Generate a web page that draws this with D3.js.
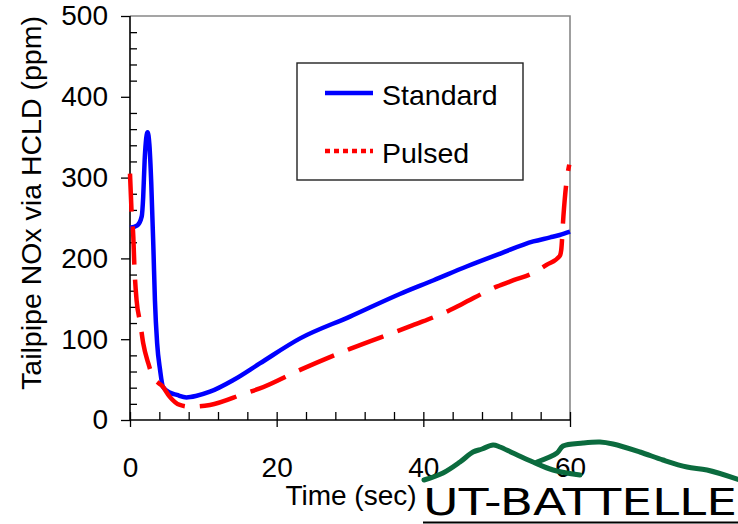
<!DOCTYPE html>
<html>
<head>
<meta charset="utf-8">
<script src="https://cdn.jsdelivr.net/npm/d3@7"></script>
<style>
  html, body { margin: 0; padding: 0; background: #fff; }
  svg { display: block; font-family: "Liberation Sans", Arial, sans-serif; }
</style>
</head>
<body>
<svg id="chart" width="738" height="524"></svg>
<script>
// ---- data ----
const standardTime = [0, 1.0, 1.6, 1.8, 2.0, 2.15, 2.4, 2.65, 2.9, 3.2, 3.4, 3.7, 4.1, 4.5, 5.4, 6.4, 7.7, 9.1, 10.9, 14.1, 17.7, 23.2, 30, 36.8, 41.4, 45.9, 50.5, 55.0, 57.3, 58.6, 60];
const standardNOx  = [238, 241, 252, 276, 322, 343, 356, 340, 293, 210, 148, 95, 62, 41, 34, 31, 28, 30, 35, 49.5, 70, 101, 128, 156, 173, 190, 206, 221, 226, 229, 233];

const pulsedTime = [0, 0.2, 0.45, 0.6, 0.9, 1.4, 1.8, 2.5, 3.1, 4.5, 5.4, 6.8, 8.2, 10.9, 15.7, 17.7, 23.2, 30, 38.5, 43.4, 45.3, 50, 52.3, 55, 56.8, 58.6, 58.8, 59.1, 59.5, 59.9];
const pulsedNOx  = [305, 260, 227, 190, 148, 120, 95, 70, 54, 41, 29, 18.6, 16.5, 18.6, 33, 39, 62, 88, 117, 135, 143.6, 165, 173, 182, 192, 203, 210, 252, 293, 316];

const seriesNames = ["Standard", "Pulsed"];
const xTicks = [0, 20, 40, 60];
const yTicks = [0, 100, 200, 300, 400, 500];
const xTitle = "Time (sec)";
const yTitle = "Tailpipe NOx via HCLD (ppm)";
const logoText = "UT-BATTELLE";

// ---- layout ----
const svg = d3.select("#chart");
const L = 130, R = 570, T = 16, B = 420;
const x = d3.scaleLinear().domain([0, 60]).range([L, R]);
const y = d3.scaleLinear().domain([0, 500]).range([B, T]);

// frame: top & right gray
svg.append("path")
  .attr("d", `M${L},${T}H${R}V${B}`)
  .attr("fill", "none").attr("stroke", "#888").attr("stroke-width", 1.6);

// minor ticks (inward)
const xMinor = d3.range(0, 61, 4).filter(v => v % 20 !== 0);
svg.append("g").attr("transform", `translate(0,${B})`)
  .call(d3.axisTop(x).tickValues(xMinor).tickSize(8).tickFormat(""))
  .call(g => g.select(".domain").remove())
  .selectAll("line").attr("stroke", "#000").attr("stroke-width", 1.3);
const yMinor = d3.range(0, 501, 20).filter(v => v % 100 !== 0);
svg.append("g").attr("transform", `translate(${L},0)`)
  .call(d3.axisRight(y).tickValues(yMinor).tickSize(7).tickFormat(""))
  .call(g => g.select(".domain").remove())
  .selectAll("line").attr("stroke", "#000").attr("stroke-width", 1.3);

// x axis major
const gx = svg.append("g").attr("transform", `translate(0,${B})`)
  .call(d3.axisBottom(x).tickValues(xTicks).tickSize(7).tickPadding(30).tickFormat(d3.format("d")));
gx.select(".domain").attr("d", `M${L},0H${R}`).attr("stroke", "#000").attr("stroke-width", 1.6);
gx.selectAll(".tick line").attr("y1", -8).attr("stroke", "#000").attr("stroke-width", 1.3);
gx.selectAll("text").attr("font-size", 28).attr("fill", "#000")
  .attr("font-family", "'Liberation Sans', Arial, sans-serif");

// y axis major
const gy = svg.append("g").attr("transform", `translate(${L},0)`)
  .call(d3.axisLeft(y).tickValues(yTicks).tickSize(9).tickPadding(13).tickFormat(d3.format("d")));
gy.select(".domain").attr("d", `M0,${T}V${B}`).attr("stroke", "#000").attr("stroke-width", 1.6);
gy.selectAll(".tick line").attr("stroke", "#000").attr("stroke-width", 1.3);
gy.selectAll("text").attr("font-size", 28).attr("fill", "#000")
  .attr("font-family", "'Liberation Sans', Arial, sans-serif");

// titles
svg.append("text").attr("x", 351).attr("y", 505).attr("text-anchor", "middle")
  .attr("font-size", 28).text(xTitle);
svg.append("text").attr("transform", "translate(41,203) rotate(-90)")
  .attr("text-anchor", "middle").attr("font-size", 28.5).text(yTitle);

// lines
const line = d3.line().x(d => x(d[0])).y(d => y(d[1])).curve(d3.curveMonotoneX);
const stdData = standardTime.map((t, i) => [t, standardNOx[i]]);
const pulData = pulsedTime.map((t, i) => [t, pulsedNOx[i]]);

svg.append("path").datum(stdData).attr("d", line)
  .attr("fill", "none").attr("stroke", "#0000ff").attr("stroke-width", 4.5)
  .attr("stroke-linejoin", "round");
svg.append("path").datum(pulData).attr("d", line)
  .attr("fill", "none").attr("stroke", "#ff0000").attr("stroke-width", 4.5)
  .attr("stroke-dasharray", "38,15");

// legend
const lg = svg.append("g");
lg.append("rect").attr("x", 297).attr("y", 63).attr("width", 226).attr("height", 117)
  .attr("fill", "#fff").attr("stroke", "#222").attr("stroke-width", 1.4);
const legendStyles = [
  { color: "#0000ff", dash: null, y: 93 },
  { color: "#ff0000", dash: "5,4", y: 151 }
];
seriesNames.forEach((name, i) => {
  const s = legendStyles[i];
  lg.append("line").attr("x1", 325).attr("x2", 373).attr("y1", s.y).attr("y2", s.y)
    .attr("stroke", s.color).attr("stroke-width", 4.5)
    .attr("stroke-dasharray", s.dash);
  lg.append("text").attr("x", 382).attr("y", s.y + 12).attr("font-size", 28.5).text(name);
});

// logo
const logoLine = d3.line().curve(d3.curveCatmullRom);
const ridge1 = [[424,480],[443,473],[460,462],[473,452],[482,449],[493,445],[500,447],[513,453],[533,462],[553,470],[580,475]];
const ridge2 = [[537,462],[557,453],[563,446],[583,443],[600,442],[613,444],[640,452],[663,460],[687,467],[707,470],[740,480]];
[ridge1, ridge2].forEach(r => {
  svg.append("path").attr("d", logoLine(r)).attr("fill", "none")
    .attr("stroke", "#0b6b3e").attr("stroke-width", 5).attr("stroke-linecap", "round");
});
svg.append("text").attr("x", 423).attr("y", 515).attr("font-size", 38)
  .attr("font-family", "'DejaVu Sans', sans-serif")
  .attr("textLength", 314).attr("lengthAdjust", "spacingAndGlyphs").text(logoText);
svg.append("line").attr("x1", 423).attr("x2", 738).attr("y1", 522.5).attr("y2", 522.5)
  .attr("stroke", "#000").attr("stroke-width", 2);
</script>
</body>
</html>
